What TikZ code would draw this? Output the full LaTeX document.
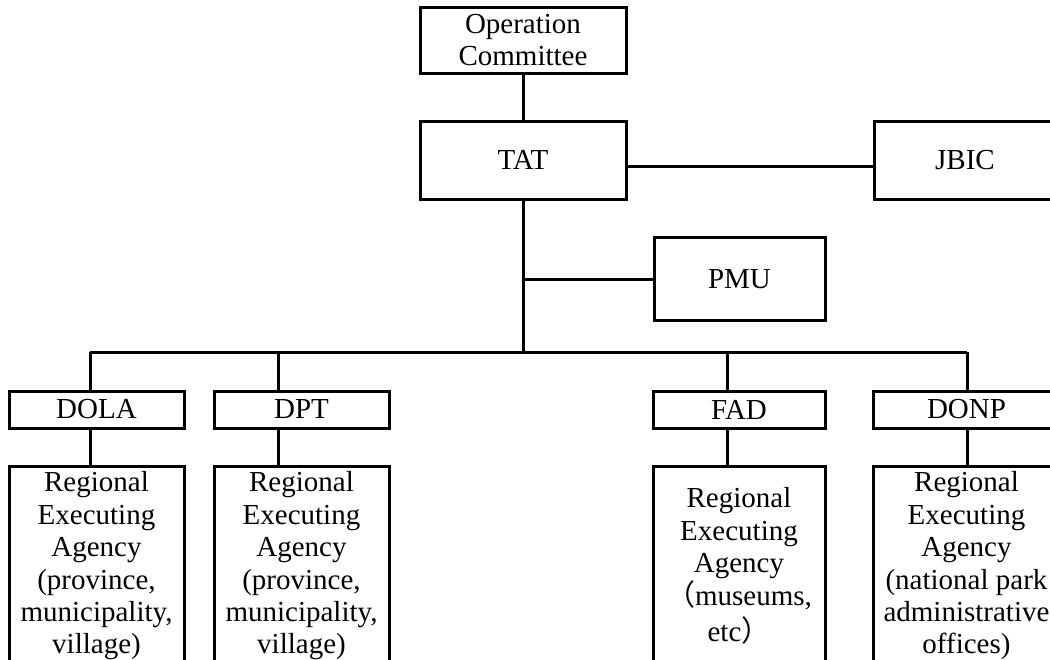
\documentclass[tikz,border=0pt]{standalone}
\usepackage{fontspec}
\setmainfont{Liberation Serif}
\newfontfamily\cjk{Noto Sans CJK SC}
\usetikzlibrary{calc}
\tikzset{
  bx/.style={draw,line width=1.5pt,inner sep=0pt,align=center,font=\fontsize{14.5}{16.2}\selectfont},
  hd/.style={bx,minimum height=18.5pt},
  rg/.style={bx,minimum height=100pt},
  ln/.style={line width=1.5pt}
}
\begin{document}
\begin{tikzpicture}[x=0.5pt,y=0.5pt]
\useasboundingbox (0,0) rectangle (1050,-659);
\clip (0,0) rectangle (1050,-659);
\node[bx,minimum width=103pt,minimum height=33pt] (oc) at (523,-40) {Operation\\Committee};
\node[bx,minimum width=103pt,minimum height=39pt] (tat) at (523,-160) {TAT};
\node[bx,minimum width=91pt,minimum height=39pt] (jbic) at (965,-160) {JBIC};
\node[bx,minimum width=85.5pt,minimum height=41.5pt] (pmu) at (739.5,-279) {PMU};
\node[hd,minimum width=87.5pt] (dola) at (96.5,-409.5) {DOLA};
\node[hd,minimum width=87.5pt] (dpt) at (301.5,-409.5) {DPT};
\node[hd,minimum width=86pt] (fad) at (739,-409.5) {FAD};
\node[hd,minimum width=93.5pt] (donp) at (966.5,-409.5) {DONP};
\node[rg,minimum width=87.5pt] (rdola) at (96.5,-566) {Regional\\Executing\\Agency\\(province,\\municipality,\\village)};
\node[rg,minimum width=87.5pt] (rdpt) at (301.5,-566) {Regional\\Executing\\Agency\\(province,\\municipality,\\village)};
\node[rg,minimum width=86pt] (rfad) at (739,-566) {Regional\\Executing\\Agency\\{\cjk （}museums,\\[2pt]etc{\cjk ）}};
\node[rg,minimum width=93.5pt] (rdonp) at (966.5,-566) {Regional\\Executing\\Agency\\(national park\\administrative\\offices)};
\coordinate (d1) at (90,-352);
\coordinate (d2) at (278,-352);
\coordinate (d3) at (727,-352);
\coordinate (d4) at (967,-352);
\draw[ln] (oc) -- (tat);
\draw[ln] ([yshift=-3pt]tat.east) -- ([yshift=-3pt]jbic.west);
\draw[ln] (tat.south) -- (tat.south |- d1);
\draw[ln] (tat.south |- pmu.west) -- (pmu.west);
\draw[ln] (d1) -- (d4);
\foreach \d/\h/\r in {d1/dola/rdola,d2/dpt/rdpt,d3/fad/rfad,d4/donp/rdonp}{
  \draw[ln] (\d) -- (\d |- \h.north);
  \draw[ln] (\d |- \h.south) -- (\d |- \r.north);
}
\end{tikzpicture}
\end{document}
